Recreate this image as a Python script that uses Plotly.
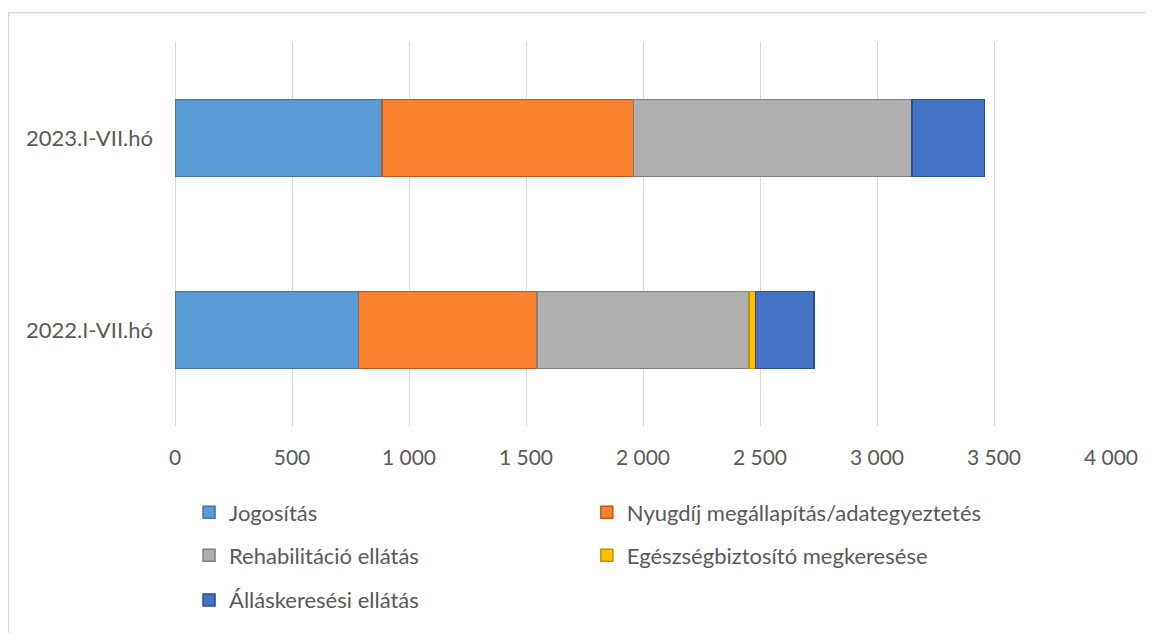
import plotly.graph_objects as go

# periods (bottom to top)
periods = ["2022.I-VII.hó", "2023.I-VII.hó"]

series_names = [
    "Jogosítás",
    "Nyugdíj megállapítás/adategyeztetés",
    "Rehabilitáció ellátás",
    "Egészségbiztosító megkeresése",
    "Álláskeresési ellátás",
]
jogositas = [785, 885]
nyugdij = [761, 1074]
rehabilitacio = [907, 1189]
egeszsegbiztosito = [27, 2]
allaskeresesi = [251, 310]

tick_vals = [0, 500, 1000, 1500, 2000, 2500, 3000, 3500, 4000]
tick_text = ["0", "500", "1 000", "1 500", "2 000", "2 500", "3 000", "3 500", "4 000"]

colors = ["#5B9BD5", "#F9812D", "#AFAFAF", "#FFC000", "#4472C4"]
edges = ["#3F75A8", "#B85A1C", "#7F7F7F", "#C09000", "#2B4E8E"]

values = [jogositas, nyugdij, rehabilitacio, egeszsegbiztosito, allaskeresesi]

font_family = "Lato, 'Open Sans', sans-serif"
text_color = "#595959"

# one small legend per entry, laid out as a 2-column grid
legend_ids = ["legend", "legend2", "legend3", "legend4", "legend5"]
legend_pos = [(0.015, -0.2254), (0.44, -0.2254), (0.015, -0.3368), (0.44, -0.3368), (0.015, -0.4534)]

fig = go.Figure()
for name, vals, c, e, lg in zip(series_names, values, colors, edges, legend_ids):
    fig.add_trace(go.Bar(
        y=periods,
        x=vals,
        name=name,
        orientation="h",
        marker=dict(color=c, line=dict(color=e, width=1.5)),
        legend=lg,
        showlegend=True,
    ))

legends = {}
for lg, (lx, ly) in zip(legend_ids, legend_pos):
    legends[lg] = dict(
        x=lx, y=ly,
        xanchor="left",
        yanchor="middle",
        font=dict(size=22, color=text_color, family=font_family),
        itemwidth=30,
        bgcolor="rgba(0,0,0,0)",
    )

# page has an 8px body margin, so the figure is 8px smaller and shifted
fig.update_layout(
    barmode="stack",
    bargap=0.6,
    width=1145,
    height=625,
    showlegend=True,
    margin=dict(l=167, r=42, t=34, b=205),
    paper_bgcolor="white",
    plot_bgcolor="white",
    font=dict(family=font_family, size=22, color=text_color),
    xaxis=dict(
        range=[0, 4000],
        tickvals=tick_vals,
        ticktext=tick_text,
        showgrid=True,
        gridcolor="#D9D9D9",
        gridwidth=1,
        zeroline=True,
        zerolinecolor="#D9D9D9",
        zerolinewidth=1,
        showline=False,
        ticks="",
        ticklabelstandoff=17,
        tickfont=dict(size=21, color=text_color),
        automargin=False,
        fixedrange=True,
    ),
    yaxis=dict(
        showgrid=False,
        showline=False,
        ticks="",
        ticklabelstandoff=21,
        tickfont=dict(size=22, color=text_color),
        automargin=False,
        fixedrange=True,
    ),
    shapes=[dict(
        type="rect", xref="paper", yref="paper",
        x0=-0.1779, x1=1.06, y0=-0.6, y1=1.0764,
        line=dict(color="#D9D9D9", width=1.5),
        layer="below",
    )],
    **legends,
)

fig.write_html("out.html")
